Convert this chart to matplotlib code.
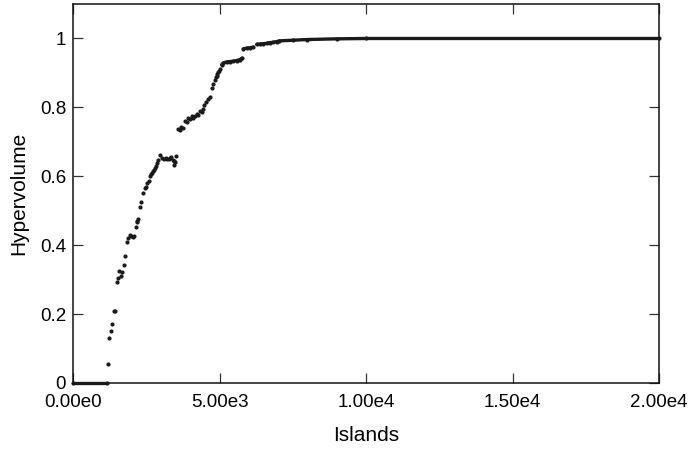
import matplotlib
matplotlib.use("Agg")
import matplotlib.pyplot as plt

plt.rcParams['font.family'] = ['Liberation Sans', 'DejaVu Sans']

islands = [1184, 1240, 1285, 1343, 1410, 1422, 1490, 1536, 1580, 1638, 1683,
           1741, 1786, 1843, 1888, 1934, 1980, 2037, 2093, 2139, 2184, 2195,
           2229, 2287, 2331, 2378, 2447, 2491, 2537, 2583, 2628, 2662, 2696,
           2730, 2754, 2788, 2822, 2856, 2890, 2980, 3049, 3106, 3174, 3219,
           3276, 3311, 3345, 3402, 3436, 3447, 3493, 3527,
           3595, 3652, 3686, 3743, 3823, 3880, 3936, 3993, 4050, 4107, 4164,
           4221, 4277, 4334, 4391, 4426, 4482, 4539, 4619, 4676, 4733, 4790,
           4847, 4881, 4904, 4927, 4960, 4972, 5017]
hypervolume = [0.054, 0.130, 0.150, 0.170, 0.208, 0.208, 0.294, 0.304, 0.326,
               0.310, 0.321, 0.343, 0.369, 0.408, 0.422, 0.431, 0.428, 0.424,
               0.426, 0.453, 0.469, 0.466, 0.476, 0.511, 0.524, 0.551, 0.566,
               0.568, 0.580, 0.585, 0.600, 0.607, 0.611, 0.616, 0.619, 0.623,
               0.631, 0.640, 0.646, 0.662, 0.653, 0.651, 0.652, 0.650, 0.650,
               0.652, 0.656, 0.646, 0.634, 0.643, 0.641, 0.659,
               0.738, 0.735, 0.743, 0.739, 0.760, 0.757, 0.769, 0.767, 0.774,
               0.769, 0.774, 0.781, 0.779, 0.789, 0.786, 0.794, 0.808, 0.815,
               0.825, 0.829, 0.855, 0.869, 0.879, 0.888, 0.890, 0.897, 0.902,
               0.905, 0.911]

# dense stretches, where the dots merge into a line
zero_x = [0, 1150]
zero_y = [0, 0]
shelf_x = [5074, 5131, 5245, 5358, 5472, 5586, 5700, 5768]
shelf_y = [0.924, 0.929, 0.932, 0.933, 0.934, 0.936, 0.939, 0.943]
shelf2_x = [5813, 5927, 6041, 6155]
shelf2_y = [0.970, 0.972, 0.973, 0.975]
top_x = [6268, 6382, 6495, 6609, 6723, 6837, 6951, 7040, 7500, 8000, 9000,
         10000, 20000]
top_y = [0.983, 0.984, 0.985, 0.986, 0.988, 0.989, 0.991, 0.993, 0.995,
         0.997, 0.999, 1.0, 1.0]

xticks = [0, 5000, 10000, 15000, 20000]
xticklabels = ["0.00e0", "5.00e3", "1.00e4", "1.50e4", "2.00e4"]
yticks = [0, 0.2, 0.4, 0.6, 0.8, 1.0]
yticklabels = ["0", "0.2", "0.4", "0.6", "0.8", "1"]

fig = plt.figure(figsize=(6.89, 4.49), dpi=100)
ax = fig.add_axes([0.106, 0.147, 0.8505, 0.844])

dot = '#1a1a1a'
ax.plot(islands, hypervolume, linestyle='none', marker='o', markersize=2.0,
        color=dot)
for xs, ys in [(zero_x, zero_y), (shelf_x, shelf_y), (shelf2_x, shelf2_y),
               (top_x, top_y)]:
    ax.plot(xs, ys, color=dot, linewidth=2.4, solid_capstyle='round',
            clip_on=False, zorder=3)
    ax.plot(xs, ys, linestyle='none', marker='o', markersize=2.0, color=dot,
            clip_on=False, zorder=3)

ax.set_xlim(0, 20000)
ax.set_ylim(0, 1.1)
ax.set_xticks(xticks)
ax.set_xticklabels(xticklabels)
ax.set_yticks(yticks)
ax.set_yticklabels(yticklabels)
ax.tick_params(direction='in', length=7.5, width=0.9, color='#333333',
               labelsize=13.5, top=True, right=True)
ax.tick_params(axis='x', pad=8)
ax.tick_params(axis='y', pad=5)
for sp in ax.spines.values():
    sp.set_linewidth(1.1)
    sp.set_color('#111111')

ax.set_xlabel("Islands", fontsize=15, labelpad=11)
ax.set_ylabel("Hypervolume", fontsize=15, labelpad=8)

plt.savefig("out.png", dpi=100)
